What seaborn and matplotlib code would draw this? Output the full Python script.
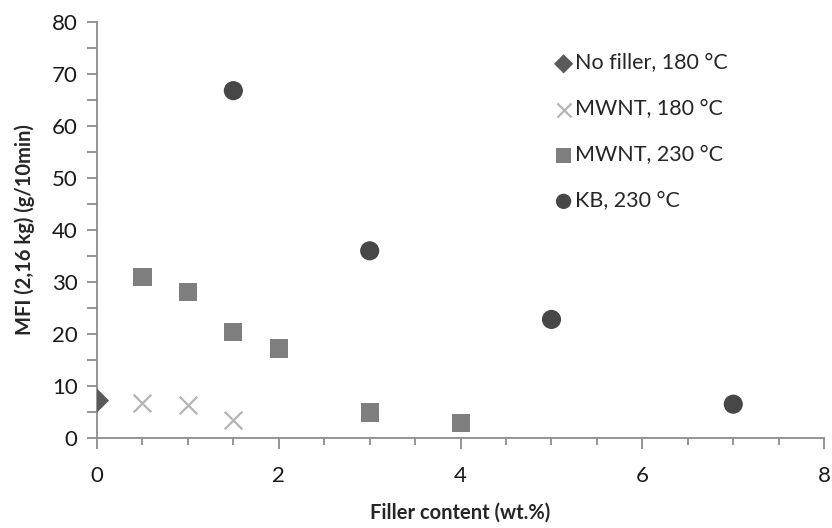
import pandas as pd
import matplotlib.pyplot as plt
import seaborn as sns
from matplotlib.ticker import MultipleLocator

# data
nofill_x = [0]
nofill_y = [7.2]
mwnt180_x = [0.5, 1.0, 1.5]
mwnt180_y = [6.8, 6.4, 3.5]
mwnt230_x = [0.5, 1.0, 1.5, 2.0, 3.0, 4.0]
mwnt230_y = [31.0, 28.1, 20.4, 17.2, 4.9, 2.8]
kb230_x = [1.5, 3.0, 5.0, 7.0]
kb230_y = [66.8, 36.0, 22.8, 6.5]

series = [
    ("No filler, 180 °C", nofill_x, nofill_y, "D", "#5a5a5a", 150),
    ("MWNT, 180 °C", mwnt180_x, mwnt180_y, "x", "#b4b4b4", 160),
    ("MWNT, 230 °C", mwnt230_x, mwnt230_y, "s", "#7f7f7f", 170),
    ("KB, 230 °C", kb230_x, kb230_y, "o", "#474747", 190),
]

sns.set_style("white")
plt.rcParams['font.family'] = ['Lato', 'DejaVu Sans']

fig = plt.figure(figsize=(8.32, 5.28), dpi=100)
ax = fig.add_axes([0.1166, 0.1705, 0.8740, 0.7878])

for name, xs, ys, mk, col, sz in series:
    df = pd.DataFrame({"x": xs, "y": ys})
    if mk == "x":
        sns.scatterplot(data=df, x="x", y="y", marker=mk, color=col, s=sz,
                        linewidth=1.6, label=name, ax=ax, zorder=3)
    else:
        sns.scatterplot(data=df, x="x", y="y", marker=mk, color=col, s=sz,
                        edgecolor="none", label=name, ax=ax, zorder=3)

ax.set_xlim(0, 8)
ax.set_ylim(0, 80)
ax.xaxis.set_major_locator(MultipleLocator(2))
ax.xaxis.set_minor_locator(MultipleLocator(0.5))
ax.yaxis.set_major_locator(MultipleLocator(10))
ax.yaxis.set_minor_locator(MultipleLocator(5))

for side in ["top", "right"]:
    ax.spines[side].set_visible(False)
for side in ["left", "bottom"]:
    ax.spines[side].set_color("#8c8c8c")
    ax.spines[side].set_linewidth(1.3)

ax.tick_params(axis="x", which="major", direction="out", length=8, width=1.3,
               color="#8c8c8c", labelsize=16, pad=12, bottom=True)
ax.tick_params(axis="x", which="minor", direction="out", length=5, width=1.3,
               color="#8c8c8c", bottom=True)
ax.tick_params(axis="y", which="both", direction="out", length=7, width=1.3,
               color="#8c8c8c", labelsize=16, pad=7, left=True)

ax.set_xlabel("Filler content (wt.%)", fontsize=14.5, fontweight="bold", labelpad=12)
ax.set_ylabel("MFI (2,16 kg) (g/10min)", fontsize=14.5, fontweight="bold", labelpad=12)
for lab in ax.get_xticklabels() + ax.get_yticklabels():
    lab.set_color("#1a1a1a")

leg = ax.legend(loc="upper left", bbox_to_anchor=(0.615, 0.945), frameon=False,
                fontsize=15.5, handletextpad=0.05, labelspacing=1.2,
                handlelength=1.0, borderaxespad=0, markerscale=0.8)

fig.savefig("out.png", dpi=100)
